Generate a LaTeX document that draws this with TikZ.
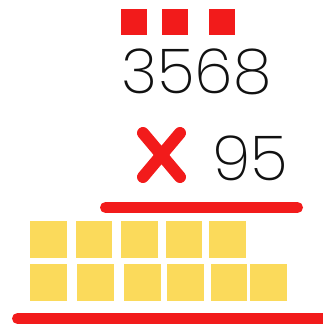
\documentclass[tikz,border=0pt]{standalone}
\usepackage{fontspec}
\setmainfont{Poppins}[UprightFont=* ExtraLight]
\usepackage{tikz}
\usetikzlibrary{positioning}
\definecolor{markred}{HTML}{F21B1B}
\definecolor{tileyellow}{HTML}{FBDA5B}
\definecolor{digitink}{HTML}{111111}
\tikzset{
  carrybox/.style={fill=markred,draw=none,minimum size=26pt,inner sep=0pt},
  tilebox/.style={fill=tileyellow,draw=none,minimum size=36.5pt,inner sep=0pt},
  digits/.style={text=digitink,inner sep=0pt,font=\fontsize{62}{62}\selectfont},
  redbar/.style={draw=markred,line width=11pt,line cap=round},
  timesbar/.style={draw=markred,line width=12pt,line cap=round}
}
\begin{document}
\begin{tikzpicture}[x=1pt,y=-1pt]
    \path[use as bounding box] (0,0) rectangle (323,324);

    % carried digits
    \node[carrybox] (carryA) at (134,22) {};
    \node[carrybox] (carryB) at (175,22) {};
    \node[carrybox] (carryC) at (221.5,22) {};

    \node[digits,anchor=base west] (top) at (121,93) {3568};
    \node[digits,anchor=base west] (low) at (212,180) {95};

    % multiplication sign
    \coordinate (tl) at (143,133);
    \coordinate (br) at (180,177);
    \coordinate (tr) at (180,133);
    \coordinate (bl) at (143,177);
    \draw[timesbar] (tl) -- (br);
    \draw[timesbar] (tr) -- (bl);

    \coordinate (ruleAw) at (105.5,207.5);
    \coordinate (ruleAe) at (297.5,207.5);
    \draw[redbar] (ruleAw) -- (ruleAe);

    % partial products
    \node[tilebox] (tA1) at (48.5,239.5) {};
    \node[tilebox] (tA2) at (94,239.5) {};
    \node[tilebox] (tA3) at (139.5,239.5) {};
    \node[tilebox] (tA4) at (184,239.5) {};
    \node[tilebox] (tA5) at (227.5,239.5) {};
    \node[tilebox] (tB1) at (48.5,282.5) {};
    \node[tilebox] (tB2) at (95.5,282.5) {};
    \node[tilebox] (tB3) at (142.5,282.5) {};
    \node[tilebox] (tB4) at (185.5,282.5) {};
    \node[tilebox] (tB5) at (229,282.5) {};
    \node[tilebox] (tB6) at (268.5,282.5) {};

    \coordinate (ruleBw) at (17.5,318.5);
    \coordinate (ruleBe) at (340,318.5);
    \draw[redbar] (ruleBw) -- (ruleBe);
  \end{tikzpicture}
\end{document}
